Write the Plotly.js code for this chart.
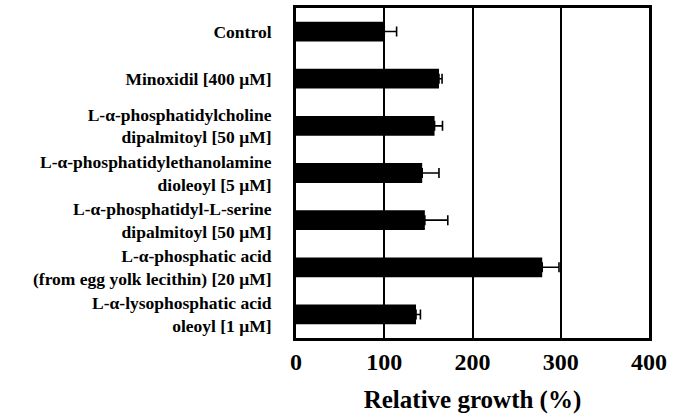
<!DOCTYPE html>
<html>
<head>
<meta charset="utf-8">
<script src="https://cdn.plot.ly/plotly-3.0.1.min.js"></script>
<style>html,body{margin:0;padding:0;background:#fff;}#chart{width:685px;height:418px;}</style>
</head>
<body>
<div id="chart"></div>
<script>
const categories = [
  "Control",
  "Minoxidil [400 μM]",
  "L-α-phosphatidylcholine<br>dipalmitoyl [50 μM]",
  "L-α-phosphatidylethanolamine<br>dioleoyl [5 μM]",
  "L-α-phosphatidyl-L-serine<br>dipalmitoyl [50 μM]",
  "L-α-phosphatic acid<br>(from egg yolk lecithin) [20 μM]",
  "L-α-lysophosphatic acid<br>oleoyl [1 μM]"
];
const growth = [100, 162, 157, 143, 146, 279, 136];
const errors = [14, 3.5, 9, 19, 26, 19, 5];
const xTicks = [0, 100, 200, 300, 400];

const serif = "'Liberation Serif', 'Times New Roman', serif";

const trace = {
  type: 'bar',
  orientation: 'h',
  y: categories,
  x: growth,
  width: 0.42,
  marker: {color: '#000', line: {width: 0}},
  error_x: {
    type: 'data',
    symmetric: false,
    array: errors,
    arrayminus: errors.map(() => 0),
    color: '#000',
    thickness: 1.6,
    width: 5
  },
  hoverinfo: 'none'
};

const layout = {
  width: 685,
  height: 418,
  margin: {l: 296, r: 36, t: 8, b: 80},
  paper_bgcolor: '#fff',
  plot_bgcolor: '#fff',
  showlegend: false,
  bargap: 0.58,
  xaxis: {
    range: [0, 400],
    tickvals: xTicks,
    ticktext: xTicks.map(String),
    ticks: '',
    showgrid: true,
    gridcolor: '#000',
    gridwidth: 2,
    zeroline: false,
    showline: true,
    mirror: true,
    linecolor: '#000',
    linewidth: 3,
    tickfont: {family: serif, size: 24, color: '#000', weight: 'bold'},
    title: {
      text: 'Relative growth (%)',
      font: {family: serif, size: 25, color: '#000', weight: 'bold'},
      standoff: 17
    },
    automargin: false,
    fixedrange: true
  },
  yaxis: {
    type: 'category',
    autorange: false,
    range: [6.5, -0.5],
    ticks: '',
    showgrid: false,
    zeroline: false,
    showline: true,
    mirror: true,
    linecolor: '#000',
    linewidth: 3,
    ticklabelstandoff: 18,
    tickfont: {family: serif, size: 17.5, color: '#000', weight: 'bold'},
    automargin: false,
    fixedrange: true
  }
};

Plotly.newPlot('chart', [trace], layout, {displayModeBar: false, staticPlot: true});
</script>
</body>
</html>
